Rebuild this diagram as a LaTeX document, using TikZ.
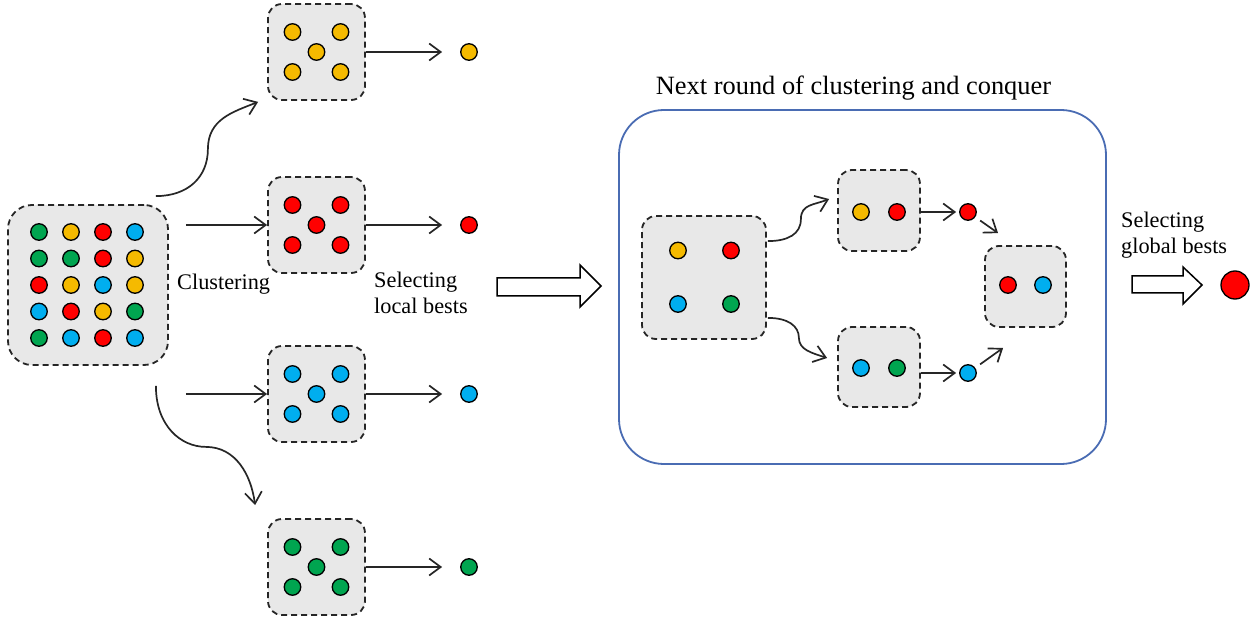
\documentclass[tikz,border=0pt]{standalone}
\usepackage{fontspec}
\setmainfont{Liberation Serif}
\usetikzlibrary{arrows.meta}
\definecolor{cgreen}{HTML}{00A550}
\definecolor{cyellow}{HTML}{F5BA00}
\definecolor{cred}{HTML}{FF0000}
\definecolor{cblue}{HTML}{00AEEF}
\definecolor{boxgray}{HTML}{E8E8E8}
\definecolor{frameblue}{HTML}{4A6CB3}
\begin{document}
\begin{tikzpicture}[x=1bp,y=-1bp,
  ball/.style={circle,draw=black,line width=1.3bp,minimum size=16.5bp,inner sep=0pt,fill=#1},
  clusterbox/.style={draw=black!85,fill=boxgray,dash pattern=on 6bp off 4bp,line width=1.8bp,
    rounded corners=14bp,minimum width=97bp,minimum height=96bp,inner sep=0pt},
  flow/.style={draw=black!85,line width=1.7bp,-{Straight Barb[length=11.5bp,width=17bp]}},
  lbl/.style={font=\fontsize{22.3bp}{26bp}\selectfont,inner sep=0pt},
  blockarrow/.style={draw=black,line width=1.5bp,fill=white,line join=miter}
]
\useasboundingbox (0,0) rectangle (1258,622);

% ---- initial population ----
\node[clusterbox,minimum width=160bp,minimum height=160bp,rounded corners=24bp] (main) at (88,285) {};
\foreach \row [count=\r] in {{cgreen,cyellow,cred,cblue},{cgreen,cgreen,cred,cyellow},
    {cred,cyellow,cblue,cyellow},{cblue,cred,cyellow,cgreen},{cgreen,cblue,cred,cblue}}{
  \foreach \c [count=\k] in \row {
    \node[ball=\c] (g-\r-\k) at ({39+32*(\k-1)},{232+26.5*(\r-1)}) {};
  }
}

% ---- clusters and their local bests ----
\foreach \n/\cy/\col in {yb/52/cyellow, rb/225/cred, bb/394/cblue, gb/567/cgreen}{
  \node[clusterbox] (\n) at (316.5,\cy) {};
  \node[ball=\col] (\n-1) at (292.5,\cy-20) {};
  \node[ball=\col] (\n-2) at (340.5,\cy-20) {};
  \node[ball=\col] (\n-3) at (316.5,\cy) {};
  \node[ball=\col] (\n-4) at (292.5,\cy+20) {};
  \node[ball=\col] (\n-5) at (340.5,\cy+20) {};
  \node[ball=\col] (\n-best) at (469,\cy) {};
  \draw[flow,shorten >=18bp] (\n) -- (\n-best);
}

% ---- clustering arrows ----
\draw[flow] (main.east |- rb) ++(17,0) coordinate (ca) -- (rb);
\draw[flow] (main.east |- bb) ++(17,0) coordinate (cb) -- (bb);
\draw[flow] ([shift={(-13,-8)}]main.north east)
  .. controls +(32,0) and +(0,28) .. ++(52,-47)
  .. controls +(0,-30) and +(-25,10) .. ([shift={(-9,1)}]yb.south west);
\draw[flow] ([shift={(-13,20)}]main.south east)
  .. controls +(0,40) and +(-25,0) .. ++(50,61)
  .. controls +(30,0) and +(-4,-30) .. ([shift={(-12,-13)}]gb.north west);

\node[lbl,anchor=base west] (clu) at (177,290) {Clustering};
\node[lbl,anchor=north west,align=left] (slb) at (374,272) {Selecting\\local bests};

% ---- block arrow into next round ----
\draw[blockarrow] (497,278) -- (580,278) -- (580,265) -- (601,286) -- (580,307) -- (580,296) -- (497,296) -- cycle;

% ---- next round ----
\node[lbl,font=\fontsize{26.4bp}{30bp}\selectfont,anchor=base] (title) at (853.5,95) {Next round of clustering and conquer};
\node[draw=frameblue,line width=1.8bp,rounded corners=45bp,minimum width=487bp,minimum height=354bp] (frame) at (862.5,287) {};

\node[clusterbox,minimum width=124bp,minimum height=123bp] (lb) at (704,277.5) {};
\node[ball=cyellow] (lb-1) at (678,250.5) {};
\node[ball=cred]    (lb-2) at (731,250.5) {};
\node[ball=cblue]   (lb-3) at (678,304) {};
\node[ball=cgreen]  (lb-4) at (731,304) {};

\node[clusterbox,minimum width=82bp,minimum height=81bp] (tb) at (879,210.5) {};
\node[ball=cyellow] (tb-1) at (861,212) {};
\node[ball=cred]    (tb-2) at (897,212) {};

\node[clusterbox,minimum width=82bp,minimum height=80bp] (mb) at (879,367) {};
\node[ball=cblue]   (mb-1) at (861,368) {};
\node[ball=cgreen]  (mb-2) at (897,368) {};

\node[clusterbox,minimum width=81bp,minimum height=81bp] (fb) at (1025.5,286.5) {};
\node[ball=cred]    (fb-1) at (1008,285) {};
\node[ball=cblue]   (fb-2) at (1043,285) {};

\node[ball=cred]  (tr) at (968,212) {};
\node[ball=cblue] (mr) at (968,373) {};

\draw[flow] ([shift={(1,26)}]lb.north east)
  .. controls +(20,0) and +(0,15) .. ++(33,-22)
  .. controls +(0,-15) and +(-15,6) .. ([shift={(-8,-11.5)}]tb.west);
\draw[flow] ([shift={(1,-22)}]lb.south east)
  .. controls +(20,0) and +(0,-12) .. ++(31,20)
  .. controls +(0,12) and +(-15,-5) .. ([shift={(-10,-9)}]mb.west);
\draw[flow,shorten >=3bp] (tb.east |- tr) -- (tr);
\draw[flow,shorten >=3bp] (mb.east |- mr) -- (mr);
\coordinate (fin1) at ([shift={(14,-12)}]fb.north west);
\coordinate (fin2) at ([shift={(19,20)}]fb.south west);
\draw[flow,shorten <=6bp] (tr) -- (fin1);
\draw[flow,shorten <=6bp] (mr) -- (fin2);

% ---- global best ----
\node[lbl,anchor=north west,align=left] (sgb) at (1121,211.5) {Selecting\\global bests};
\draw[blockarrow] (1132,276) -- (1183,276) -- (1183,267) -- (1202,285) -- (1183,304) -- (1183,293) -- (1132,293) -- cycle;
\node[ball=cred,minimum size=28bp] (gbest) at (1235,285) {};
\end{tikzpicture}
\end{document}
